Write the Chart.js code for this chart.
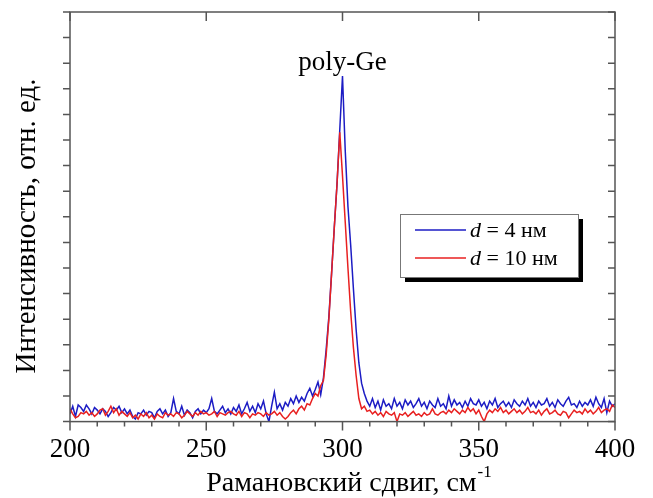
<!DOCTYPE html>
<html>
<head>
<meta charset="utf-8">
<title>Raman poly-Ge</title>
<script src="https://cdn.jsdelivr.net/npm/chart.js@4.4.0/dist/chart.umd.min.js"></script>
<style>
  html, body { margin: 0; padding: 0; background: #fff; }
  canvas { display: block; }
</style>
</head>
<body>
<canvas id="ramanChart" width="653" height="498"></canvas>
<script>
// spectra sampled every 1 cm-1 from 200 to 400
var shiftStart = 200;
var shiftStep = 1;

var xTicks = [200, 250, 300, 350, 400];

// d = 4 nm
var blue4nm = [
  0.30, 0.60, 0.20, 0.65, 0.55, 0.40, 0.65, 0.50, 0.30, 0.55,
  0.45, 0.30, 0.50, 0.40, 0.20, 0.35, 0.55, 0.45, 0.60, 0.35,
  0.50, 0.30, 0.45, 0.20, 0.10, 0.35, 0.30, 0.45, 0.25, 0.40,
  0.35, 0.15, 0.40, 0.50, 0.30, 0.45, 0.20, 0.35, 0.90, 0.40,
  0.30, 0.60, 0.25, 0.45, 0.35, 0.15, 0.40, 0.50, 0.30, 0.45,
  0.35, 0.50, 0.90, 0.40, 0.30, 0.45, 0.60, 0.35, 0.50, 0.30,
  0.55, 0.40, 0.65, 0.30, 0.50, 0.75, 0.40, 0.60, 0.35, 0.70,
  0.50, 0.80, 0.30, 0.00, 0.60, 1.15, 0.50, 0.70, 0.45, 0.75,
  0.60, 0.90, 0.70, 1.00, 0.75, 0.95, 0.80, 1.10, 1.30, 1.00,
  1.25, 1.55, 1.05, 1.70, 2.80, 4.10, 5.80, 7.60, 9.30, 11.40,
  13.50, 10.60, 8.40, 6.90, 5.20, 3.60, 2.30, 1.50, 1.10, 0.80,
  0.60, 0.90, 0.55, 0.80, 0.45, 0.85, 0.60, 0.70, 0.50, 0.90,
  0.60, 0.75, 0.50, 0.85, 0.65, 0.80, 0.55, 0.70, 0.90, 0.60,
  0.75, 0.50, 0.80, 0.65, 0.55, 0.90, 0.60, 0.70, 0.50, 1.00,
  0.60, 0.85, 0.65, 0.75, 0.55, 0.80, 0.60, 0.90, 0.70, 0.65,
  0.85, 0.60, 0.75, 0.50, 0.80, 0.65, 0.90, 0.55, 0.70, 0.80,
  0.60, 0.75, 0.55, 0.85, 0.70, 0.60, 0.80, 0.65, 0.90, 0.60,
  0.75, 0.55, 0.80, 0.65, 0.70, 0.90, 0.60, 0.75, 0.55, 0.85,
  0.70, 0.60, 0.80, 0.95, 0.65, 0.70, 0.55, 0.80, 0.60, 0.75,
  0.65, 0.85, 0.60, 0.95, 0.70, 0.55, 0.90, 0.35, 0.80, 0.60,
  0.70
];

// d = 10 nm
var red10nm = [
  0.50, 0.30, 0.15, 0.20, 0.35, 0.30, 0.40, 0.25, 0.35, 0.20,
  0.30, 0.45, 0.50, 0.25, 0.40, 0.60, 0.35, 0.50, 0.25, 0.40,
  0.30, 0.20, 0.35, 0.15, 0.25, 0.10, 0.30, 0.20, 0.35, 0.15,
  0.25, 0.10, 0.30, 0.20, 0.15, 0.35, 0.25, 0.30, 0.20, 0.35,
  0.30, 0.15, 0.25, 0.40, 0.30, 0.20, 0.35, 0.25, 0.40, 0.30,
  0.35, 0.25, 0.30, 0.40, 0.20, 0.35, 0.30, 0.25, 0.35, 0.40,
  0.30, 0.25, 0.40, 0.20, 0.35, 0.30, 0.15, 0.30, 0.25, 0.35,
  0.30, 0.20, 0.35, 0.25, 0.30, 0.40, 0.25, 0.35, 0.20, 0.10,
  0.20, 0.35, 0.45, 0.30, 0.50, 0.60, 0.45, 0.70, 0.65, 0.90,
  1.10, 1.00, 1.40, 1.60, 2.60, 4.00, 5.80, 7.60, 9.30, 11.30,
  9.60, 7.80, 6.00, 4.30, 2.90, 1.80, 0.90, 0.50, 0.60, 0.40,
  0.45, 0.30, 0.40, 0.25, 0.35, 0.20, 0.40, 0.30, 0.25, 0.35,
  0.00, 0.30, 0.25, 0.35, 0.20, 0.30, 0.40, 0.25, 0.30, 0.20,
  0.35, 0.25, 0.30, 0.50, 0.30, 0.25, 0.35, 0.40, 0.30, 0.45,
  0.35, 0.50, 0.40, 0.30, 0.45, 0.35, 0.55, 0.40, 0.50, 0.30,
  0.45, 0.20, 0.00, 0.30, 0.45, 0.35, 0.50, 0.40, 0.55, 0.35,
  0.45, 0.30, 0.40, 0.50, 0.35, 0.45, 0.30, 0.40, 0.55, 0.35,
  0.40, 0.30, 0.45, 0.25, 0.40, 0.50, 0.30, 0.35, 0.45, 0.30,
  0.25, 0.40, 0.35, 0.15, 0.30, 0.45, 0.35, 0.40, 0.30, 0.50,
  0.35, 0.45, 0.30, 0.40, 0.55, 0.35, 0.45, 0.50, 0.40, 0.65,
  0.55
];

var seriesNames = ['d = 4 нм', 'd = 10 нм'];
var blueColor = 'rgb(28, 28, 196)';
var redColor = 'rgb(232, 32, 32)';
var axisColor = '#555555';
var SERIF = '"Liberation Serif", "Times New Roman", Times, serif';

function toPoints(values) {
  var pts = [];
  for (var i = 0; i < values.length; i++) {
    pts.push({ x: shiftStart + i * shiftStep, y: values[i] });
  }
  return pts;
}

// frame, tick marks, axis titles, peak label and boxed legend
var decorPlugin = {
  id: 'decor',
  afterDatasetsDraw: function (chart) {
    var ctx = chart.ctx;
    var a = chart.chartArea;
    var xs = chart.scales.x;
    var ys = chart.scales.y;
    ctx.save();

    ctx.strokeStyle = axisColor;
    ctx.lineWidth = 1.5;
    ctx.strokeRect(a.left, a.top, a.right - a.left, a.bottom - a.top);

    ctx.beginPath();
    xs.ticks.forEach(function (t) {
      var px = xs.getPixelForValue(t.value);
      var major = t.value % 50 === 0;
      ctx.moveTo(px, a.bottom);
      ctx.lineTo(px, a.bottom + (major ? 9 : 5));
      if (major) {
        ctx.moveTo(px, a.top);
        ctx.lineTo(px, a.top + 9);
      }
    });
    ys.ticks.forEach(function (t) {
      var py = ys.getPixelForValue(t.value);
      ctx.moveTo(a.left, py);
      ctx.lineTo(a.left - 7, py);
      ctx.moveTo(a.right, py);
      ctx.lineTo(a.right - 7, py);
    });
    ctx.stroke();

    // peak label
    ctx.fillStyle = '#000';
    ctx.font = '27px ' + SERIF;
    ctx.textAlign = 'center';
    ctx.textBaseline = 'alphabetic';
    ctx.fillText('poly-Ge', xs.getPixelForValue(300), 70);

    // y axis title
    ctx.save();
    ctx.translate(35, 226);
    ctx.rotate(-Math.PI / 2);
    ctx.font = '29px ' + SERIF;
    ctx.fillText('Интенсивность, отн. ед.', 0, 0);
    ctx.restore();

    // x axis title with superscript
    var main = 'Рамановский сдвиг, см';
    var sup = '-1';
    ctx.font = '28px ' + SERIF;
    var wMain = ctx.measureText(main).width;
    ctx.font = '17px ' + SERIF;
    var wSup = ctx.measureText(sup).width;
    var cx = (a.left + a.right) / 2;
    var x0 = cx - (wMain + wSup) / 2 + 6;
    ctx.textAlign = 'left';
    ctx.font = '28px ' + SERIF;
    ctx.fillText(main, x0, 491);
    ctx.font = '17px ' + SERIF;
    ctx.fillText(sup, x0 + wMain + 1, 477);

    // legend box with drop shadow
    var lx = 400, ly = 214, lw = 178, lh = 63;
    ctx.fillStyle = '#000';
    ctx.fillRect(lx + 5, ly + 5, lw, lh);
    ctx.fillStyle = '#fff';
    ctx.fillRect(lx, ly, lw, lh);
    ctx.strokeStyle = '#777';
    ctx.lineWidth = 1;
    ctx.strokeRect(lx + 0.5, ly + 0.5, lw, lh);

    var dsets = chart.data.datasets;
    var rows = [230, 258];
    [0, 1].forEach(function (k, i) {
      var ds = dsets.filter(function (d) { return d.label === seriesNames[k]; })[0];
      var y = rows[i];
      ctx.strokeStyle = ds.borderColor;
      ctx.lineWidth = 1.5;
      ctx.beginPath();
      ctx.moveTo(415, y);
      ctx.lineTo(466, y);
      ctx.stroke();
      ctx.fillStyle = '#000';
      ctx.font = 'italic 22px ' + SERIF;
      ctx.fillText('d', 470, y + 7);
      var wd = ctx.measureText('d').width;
      ctx.font = '22px ' + SERIF;
      ctx.fillText(ds.label.slice(1), 470 + wd, y + 7);
    });

    ctx.restore();
  }
};

new Chart(document.getElementById('ramanChart'), {
  type: 'line',
  data: {
    datasets: [
      {
        label: seriesNames[1],
        data: toPoints(red10nm),
        borderColor: redColor,
        borderWidth: 1.5,
        pointRadius: 0,
        tension: 0,
        order: 1
      },
      {
        label: seriesNames[0],
        data: toPoints(blue4nm),
        borderColor: blueColor,
        borderWidth: 1.5,
        pointRadius: 0,
        tension: 0,
        order: 2
      }
    ]
  },
  options: {
    responsive: false,
    animation: false,
    layout: { padding: { left: 0, right: 38, top: 12, bottom: 0 } },
    plugins: {
      legend: { display: false },
      tooltip: { enabled: false }
    },
    scales: {
      x: {
        type: 'linear',
        min: 200,
        max: 400,
        grid: { display: false },
        border: { display: false },
        afterFit: function (scale) { scale.height = 76.4; },
        ticks: {
          stepSize: 10,
          autoSkip: false,
          maxRotation: 0,
          padding: 4,
          color: '#000',
          font: { family: SERIF, size: 27 },
          callback: function (v) { return xTicks.indexOf(v) >= 0 ? String(v) : ''; }
        }
      },
      y: {
        min: 0,
        max: 16,
        grid: { display: false },
        border: { display: false },
        afterFit: function (scale) { scale.width = 70; },
        ticks: { stepSize: 1, display: false }
      }
    }
  },
  plugins: [decorPlugin]
});
</script>
</body>
</html>
